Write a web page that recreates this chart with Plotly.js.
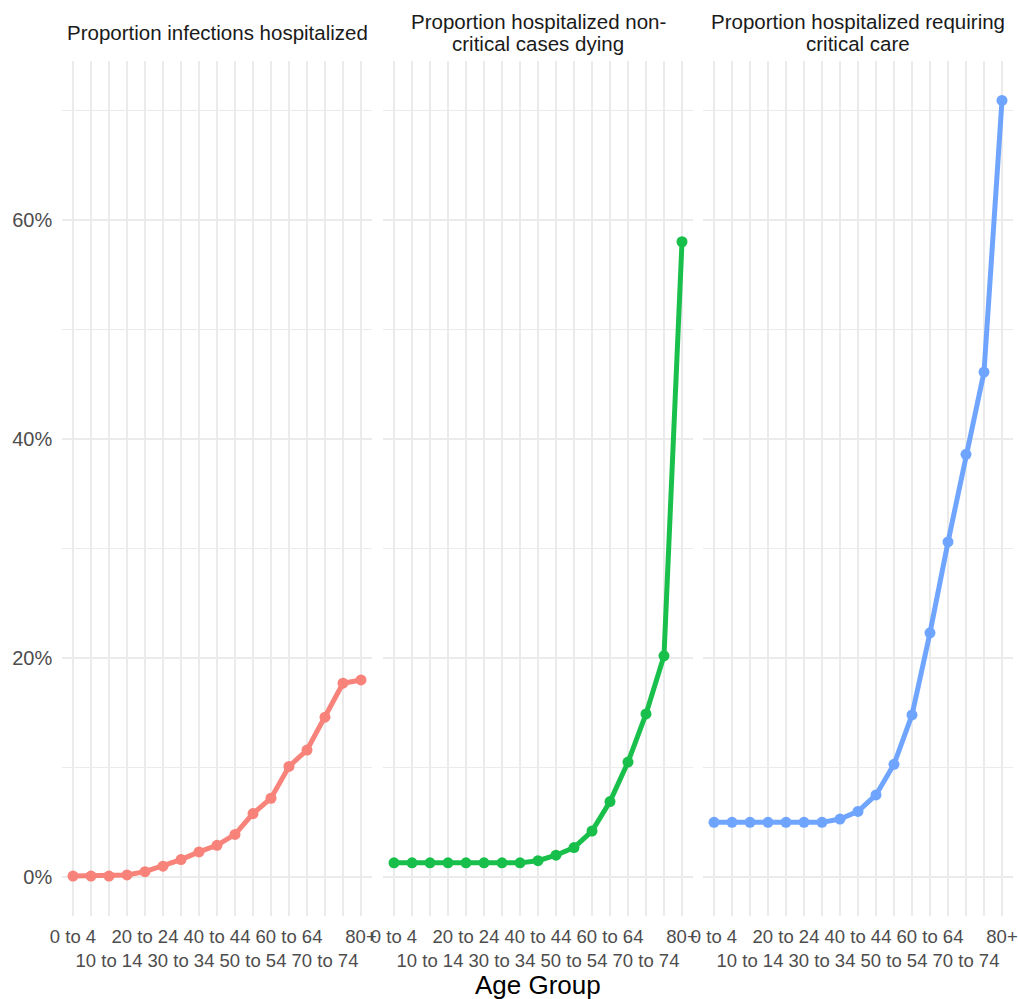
<!DOCTYPE html>
<html>
<head>
<meta charset="utf-8">
<script src="https://cdn.plot.ly/plotly-3.0.1.min.js"></script>
<style>body{margin:0;padding:0;background:#fff}#chart{width:1018px;height:999px}</style>
</head>
<body>
<div id="chart"></div>
<script>
const ageGroups = ["0 to 4","5 to 9","10 to 14","15 to 19","20 to 24","25 to 29","30 to 34","35 to 39","40 to 44","45 to 49","50 to 54","55 to 59","60 to 64","65 to 69","70 to 74","75 to 79","80+"];
const panelTitles = [["Proportion infections hospitalized"],["Proportion hospitalized non-","critical cases dying"],["Proportion hospitalized requiring","critical care"]];
const infectionsHospitalized = [0.1,0.1,0.1,0.2,0.5,1.0,1.6,2.3,2.9,3.9,5.8,7.2,10.1,11.6,14.6,17.7,18.0];
const nonCriticalDying = [1.3,1.3,1.3,1.3,1.3,1.3,1.3,1.3,1.5,2.0,2.7,4.2,6.9,10.5,14.9,20.2,58.0];
const requiringCritical = [5.0,5.0,5.0,5.0,5.0,5.0,5.0,5.3,6.0,7.5,10.3,14.8,22.3,30.6,38.6,46.1,70.9];
const colors = ["#F8766D","#00BA38","#619CFF"];
const yTickVals = [0,20,40,60];
const yMinorVals = [10,30,50,70];
const xTitle = "Age Group";

const series = [infectionsHospitalized, nonCriticalDying, requiringCritical];
const W = 1018, H = 999;
const domainsPx = [[62.2,371.8],[383.2,692.8],[703.2,1012.8]];

// dodged tick text: every other label shown, alternating rows
const tickText = ageGroups.map((g,i)=>{
  if (i % 2 === 1) return "";
  return (i % 4 === 0) ? g : "<br>" + g;
});

const traces = series.map((vals,k)=>({
  type:"scatter", mode:"lines+markers",
  x: ageGroups, y: vals,
  xaxis: k===0 ? "x" : "x"+(k+1),
  yaxis: k===0 ? "y" : "y"+(k+1),
  line:{color:colors[k], width:5},
  marker:{color:colors[k], size:11},
  opacity:0.9,
  showlegend:false, hoverinfo:"x+y"
}));

const FONT = "Liberation Sans, Arial, sans-serif";
const xTickFont = {family:FONT, size:18.5, color:"#4D4D4D"};
const yTickFont = {family:FONT, size:20, color:"#4D4D4D"};
const layout = {
  width:W, height:H,
  margin:{l:0,r:0,t:61,b:83},
  paper_bgcolor:"#fff", plot_bgcolor:"#fff",
  font:{family:FONT},
  annotations:[], showlegend:false
};
for (let k=0;k<3;k++){
  const xa = {
    domain:[domainsPx[k][0]/W, domainsPx[k][1]/W],
    type:"category", categoryorder:"array", categoryarray:ageGroups,
    range:[-0.6,16.6], tickvals:ageGroups, ticktext:tickText,
    showgrid:true, gridcolor:"#EBEBEB", gridwidth:2, zeroline:false,
    showline:false, ticks:"", tickfont:xTickFont, tickangle:0, automargin:false,
    ticklabelstandoff:7,
    anchor: k===0 ? "y" : "y"+(k+1)
  };
  const ya = {
    domain:[0,1], range:[-3.55,74.5],
    tickvals:yTickVals, ticktext:yTickVals.map(v=>v+"%"),
    showticklabels:k===0, showgrid:true, gridcolor:"#EBEBEB", gridwidth:2,
    zeroline:false, showline:false, ticks:"", tickfont:yTickFont,
    ticklabelstandoff:9,
    minor:{tickvals:yMinorVals, showgrid:true, gridcolor:"#EBEBEB", gridwidth:1, ticks:""},
    anchor: k===0 ? "x" : "x"+(k+1), automargin:false
  };
  if (k>0) ya.matches = "y";
  layout[k===0?"xaxis":"xaxis"+(k+1)] = xa;
  layout[k===0?"yaxis":"yaxis"+(k+1)] = ya;
  const lines = panelTitles[k];
  const cx = (domainsPx[k][0]+domainsPx[k][1])/2/W;
  const lineGap = 22, centerY = 32;
  lines.forEach((t,j)=>{
    const yPx = centerY + (j - (lines.length-1)/2)*lineGap;
    layout.annotations.push({
      text:t, xref:"paper", yref:"paper",
      x:cx, y:1 - yPx/H*0 , yshift:61 - yPx, 
      xanchor:"center", yanchor:"middle", showarrow:false,
      font:{family:FONT, size:20.5, color:"#1A1A1A"}
    });
  });
}
layout.annotations.forEach(a=>{ a.y = 1; });
layout.annotations.push({
  text:xTitle, xref:"paper", yref:"paper", x:(domainsPx[1][0]+domainsPx[1][1])/2/W, y:0,
  yshift:-(985-916), xanchor:"center", yanchor:"middle", showarrow:false,
  font:{family:FONT, size:26, color:"#000"}
});
Plotly.newPlot("chart", traces, layout, {staticPlot:true});
</script>
</body>
</html>
